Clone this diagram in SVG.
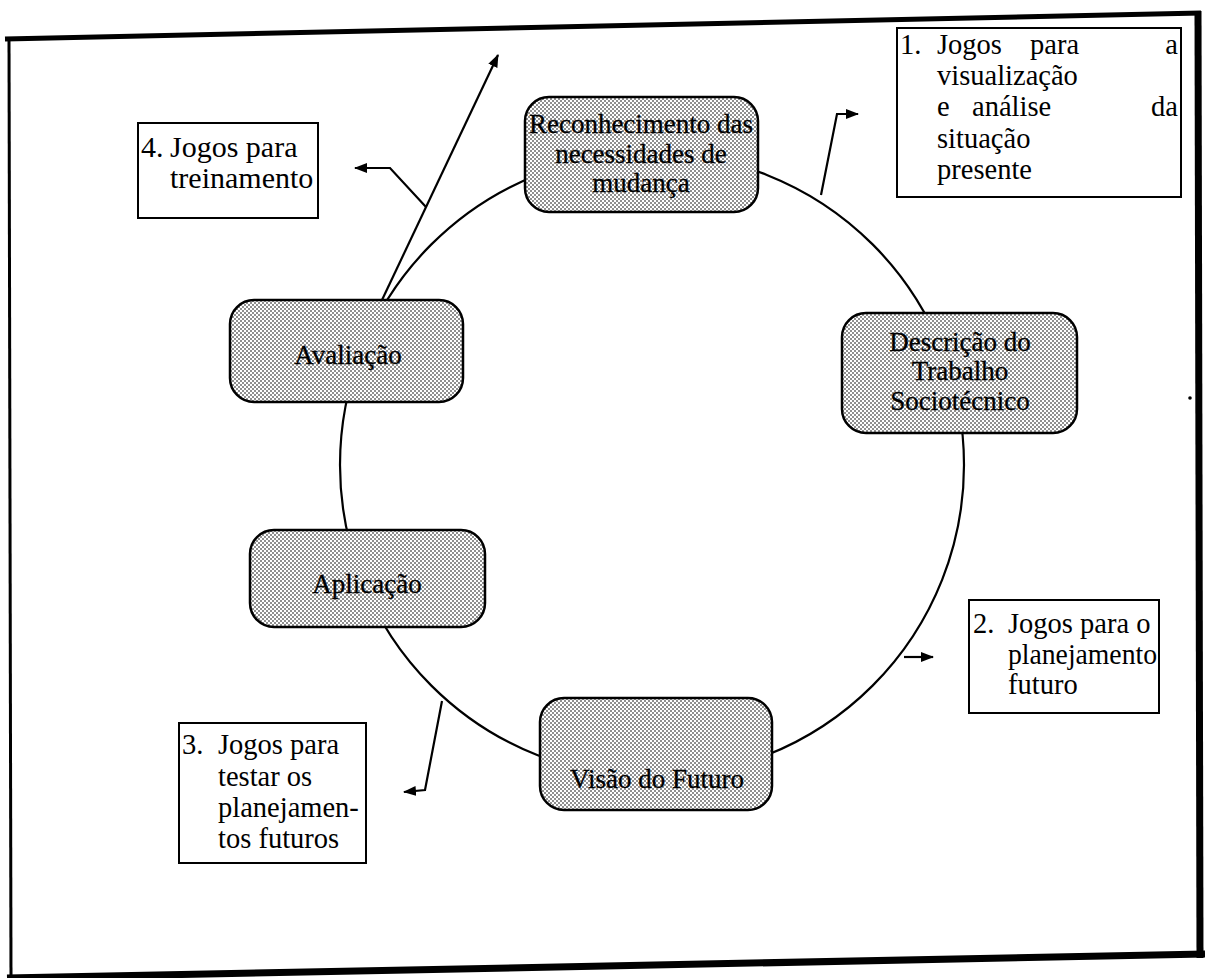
<svg xmlns="http://www.w3.org/2000/svg" width="1205" height="978" viewBox="0 0 1205 978">
<defs>
<pattern id="dots" width="4" height="4" patternUnits="userSpaceOnUse">
<rect width="4" height="4" fill="#ffffff"/>
<circle cx="1" cy="1" r="0.8" fill="#000"/>
<circle cx="3" cy="3" r="0.8" fill="#000"/>
</pattern>
<marker id="ah" markerWidth="14" markerHeight="12" refX="12" refY="6" orient="auto" markerUnits="userSpaceOnUse">
<path d="M0,1 L13,6 L0,11 Z" fill="#000"/>
</marker>
<style>
.node rect{fill:url(#dots);stroke:#000;stroke-width:2.5}
.node text{font-family:"Liberation Serif","Times New Roman",serif;font-size:27px;fill:#000;stroke:#000;stroke-width:0.3;text-anchor:middle}
.note rect{fill:#fff;stroke:#000;stroke-width:2}
.note text{font-family:"Liberation Serif","Times New Roman",serif;font-size:28.5px;fill:#000}
.note text.r{text-anchor:end}
#note-4 text{font-size:30px}
.conn{fill:none;stroke:#000;stroke-width:2.2}
.frame line{stroke:#000}
</style>
</defs>
<rect width="1205" height="978" fill="#fff"/>
<g class="frame">
<line x1="5" y1="39" x2="1201" y2="13" stroke-width="5"/>
<line x1="1198" y1="11" x2="1200" y2="958" stroke-width="7"/>
<line x1="7" y1="978" x2="1205" y2="954" stroke-width="7"/>
<line x1="9" y1="37" x2="11" y2="978" stroke-width="3"/>
</g>
<g id="connectors">
<circle class="conn" cx="652" cy="465" r="312"/>
<polyline class="conn" points="821,195 837,114 858,114" marker-end="url(#ah)"/>
<line class="conn" x1="904" y1="657" x2="933" y2="657" marker-end="url(#ah)"/>
<polyline class="conn" points="442,701 425,790 404,792" marker-end="url(#ah)"/>
<line class="conn" x1="382" y1="300" x2="498" y2="55" marker-end="url(#ah)"/>
<polyline class="conn" points="426,207 390,168 355,168" marker-end="url(#ah)"/>
</g>
<g id="node-reconhecimento" class="node">
<rect x="525" y="97" width="233" height="115" rx="24"/>
<text x="641" y="133">Reconhecimento das</text>
<text x="641" y="163">necessidades de</text>
<text x="641" y="192">mudança</text>
</g>
<g id="node-descricao" class="node">
<rect x="842" y="313" width="235" height="120" rx="24"/>
<text x="960" y="351">Descrição do</text>
<text x="960" y="380">Trabalho</text>
<text x="960" y="410">Sociotécnico</text>
</g>
<g id="node-visao" class="node">
<rect x="540" y="698" width="232" height="112" rx="24"/>
<text x="657" y="788">Visão do Futuro</text>
</g>
<g id="node-aplicacao" class="node">
<rect x="250" y="530" width="235" height="97" rx="24"/>
<text x="367" y="593">Aplicação</text>
</g>
<g id="node-avaliacao" class="node">
<rect x="230" y="300" width="233" height="102" rx="24"/>
<text x="348" y="364">Avaliação</text>
</g>
<g id="note-1" class="note">
<rect x="897" y="28" width="284" height="169"/>
<text x="900" y="54">1.</text>
<text x="937" y="54">Jogos</text>
<text x="1030" y="54">para</text>
<text class="r" x="1178" y="54">a</text>
<text x="937" y="85">visualização</text>
<text x="937" y="116">e</text>
<text x="972" y="116">análise</text>
<text class="r" x="1178" y="116">da</text>
<text x="937" y="148">situação</text>
<text x="937" y="179">presente</text>
</g>
<g id="note-2" class="note">
<rect x="969" y="600" width="190" height="113"/>
<text x="973" y="633">2.</text>
<text x="1008" y="633">Jogos para o</text>
<text x="1008" y="664" textLength="149" lengthAdjust="spacingAndGlyphs">planejamento</text>
<text x="1008" y="694">futuro</text>
</g>
<g id="note-3" class="note">
<rect x="179" y="723" width="187" height="140"/>
<text x="182" y="754">3.</text>
<text x="218" y="754">Jogos para</text>
<text x="218" y="786">testar os</text>
<text x="218" y="817">planejamen-</text>
<text x="218" y="848">tos futuros</text>
</g>
<g id="note-4" class="note">
<rect x="138" y="123" width="180" height="95"/>
<text x="141" y="157">4.</text>
<text x="170" y="157">Jogos para</text>
<text x="170" y="188">treinamento</text>
</g>
<circle cx="1190" cy="398" r="1.8" fill="#000"/>
</svg>
